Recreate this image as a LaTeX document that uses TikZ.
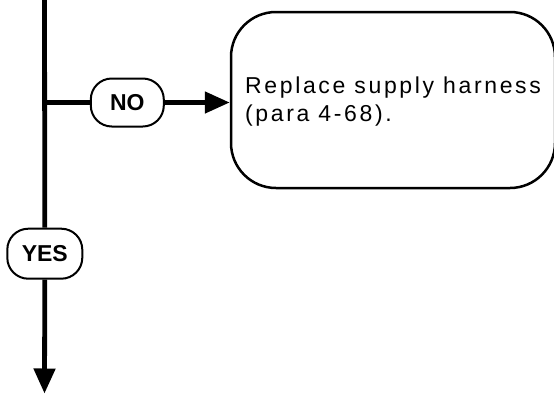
\documentclass[tikz,border=0pt]{standalone}
\usepackage{fontspec}
\setmainfont{Liberation Sans}
\newfontfamily\trackedfont[LetterSpace=11.5]{Liberation Sans}
\usetikzlibrary{arrows.meta}
\tikzset{
  flow/.style={line width=4.8pt},
  tag/.style={draw, line width=2pt, rounded corners=21pt, minimum height=48pt,
    font=\fontsize{23}{27}\selectfont\bfseries, inner sep=0pt},
  action/.style={draw, line width=2.5pt, rounded corners=45pt},
  bigtip/.style={-{Triangle[length=25pt,width=21pt]}}
}
\begin{document}
\begin{tikzpicture}[x=1pt,y=-1pt]
\useasboundingbox (0,0) rectangle (554,394);
\coordinate (top) at (44.5,-5);
\coordinate (junc) at (44.5,102.5);
\coordinate (bottom) at (44.5,393.5);
\node[tag, minimum width=73pt] (no) at (127.3,102.5) {NO};
\node[tag, minimum width=75pt, minimum height=50pt] (yes) at (44.8,253.7) {YES};
\node[action, minimum width=324pt, minimum height=176pt] (box) at (393,100) {};
\node[anchor=base west, inner sep=0pt, align=left,
  font=\fontsize{23}{28.5}\selectfont\trackedfont] (txt) at (245,121.7)
  {Replace supply harness\\(para 4-68).};
\draw[flow] (top) -- (yes.north);
\draw[flow, bigtip] (yes.south) -- (bottom);
\draw[flow] (junc) -- (no.west);
\draw[flow, bigtip] (no.east) -- (no.east -| box.west);
\end{tikzpicture}
\end{document}
